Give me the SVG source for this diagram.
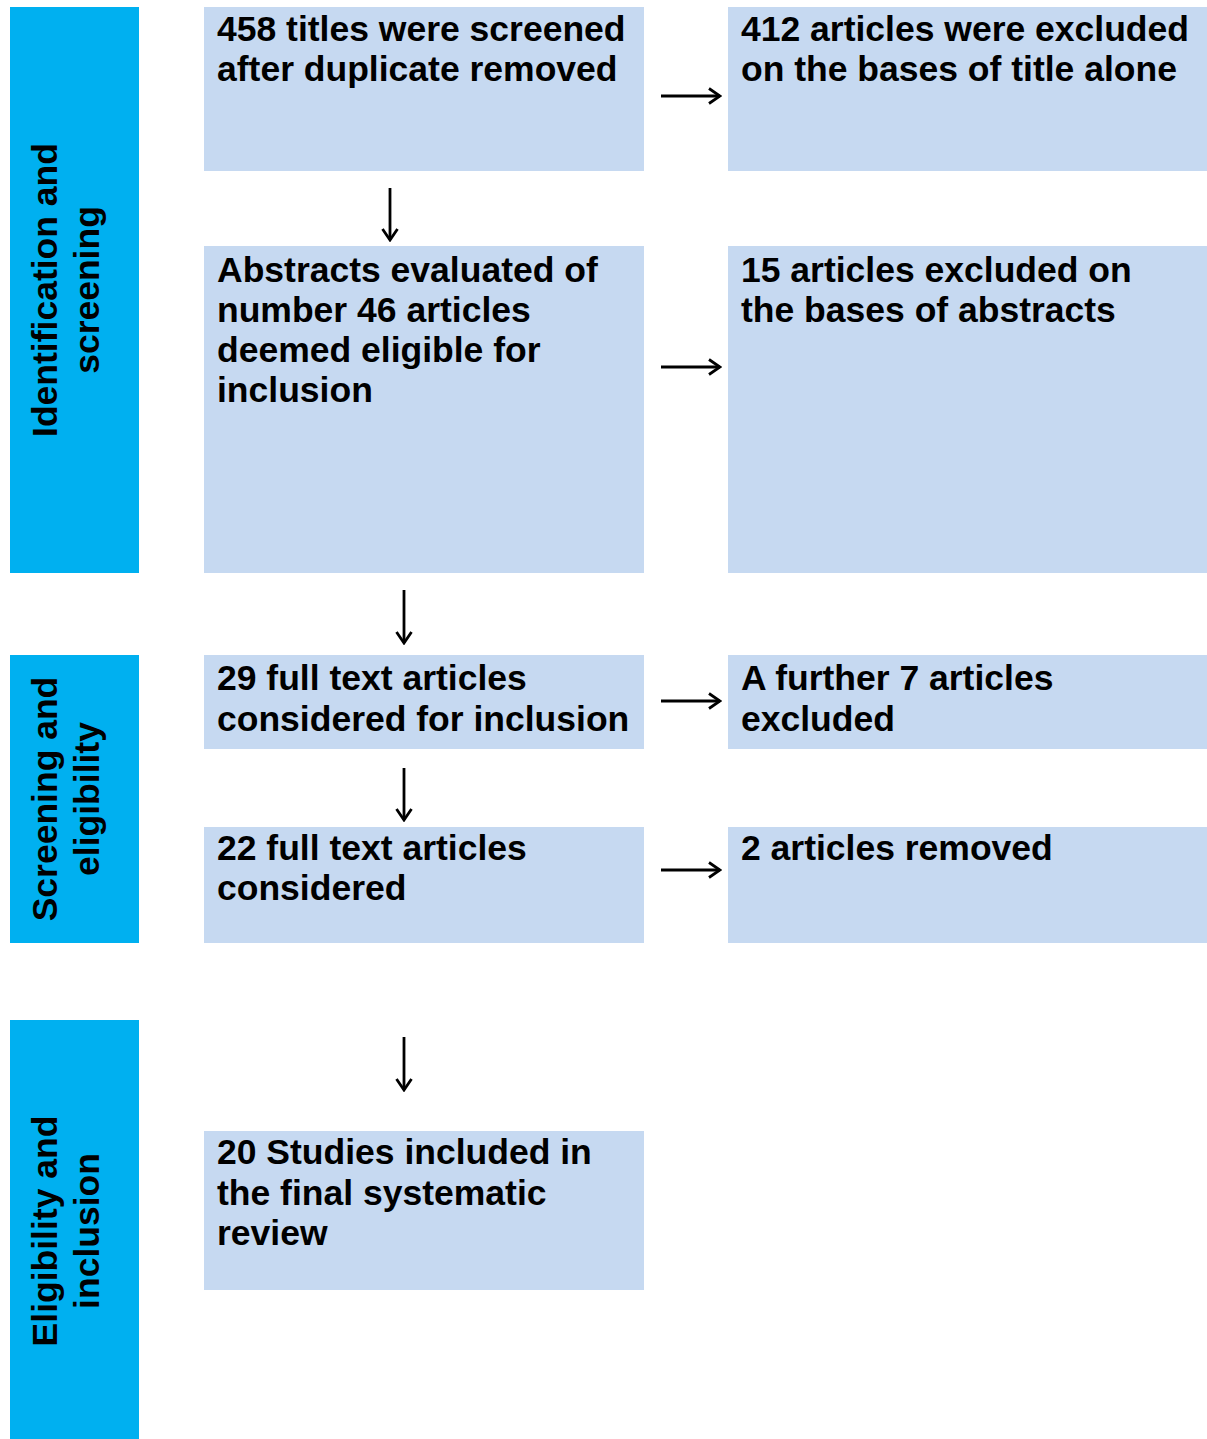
<svg xmlns="http://www.w3.org/2000/svg" width="1207" height="1439" viewBox="0 0 1207 1439">
<style>
.bar{fill:#00B0F0}
.box{fill:#C6D9F1}
.t{font-family:"Liberation Sans",Arial,sans-serif;font-weight:bold;font-size:35.5px;fill:#000}
.side{text-anchor:middle}
.c{stroke:#000;stroke-width:2.8;fill:none}
</style>
<defs>
<marker id="ah" viewBox="0 0 14 18" refX="12.5" refY="9" markerWidth="14" markerHeight="18" markerUnits="userSpaceOnUse" orient="auto">
<path d="M1.5,1.5 L12.5,9 L1.5,16.5" fill="none" stroke="#000" stroke-width="2.8"/>
</marker>
</defs>
<rect width="1207" height="1439" fill="#fff"/>
<g id="phase1">
<rect class="bar" x="10" y="7" width="129" height="566"/>
<text class="t side" transform="translate(57,290) rotate(-90)">Identification and</text>
<text class="t side" transform="translate(99,290) rotate(-90)">screening</text>
</g>
<g id="phase2">
<rect class="bar" x="10" y="655" width="129" height="288"/>
<text class="t side" transform="translate(57,799) rotate(-90)">Screening and</text>
<text class="t side" transform="translate(99,799) rotate(-90)">eligibility</text>
</g>
<g id="phase3">
<rect class="bar" x="10" y="1020" width="129" height="419"/>
<text class="t side" transform="translate(57,1231) rotate(-90)">Eligibility and</text>
<text class="t side" transform="translate(99,1231) rotate(-90)">inclusion</text>
</g>
<g id="n1">
<rect class="box" x="204" y="7" width="440" height="164"/>
<text class="t" x="217" y="41">458 titles were screened</text>
<text class="t" x="217" y="81">after duplicate removed</text>
</g>
<g id="n2">
<rect class="box" x="728" y="7" width="479" height="164"/>
<text class="t" x="741" y="41">412 articles were excluded</text>
<text class="t" x="741" y="81">on the bases of title alone</text>
</g>
<g id="n3">
<rect class="box" x="204" y="246" width="440" height="327"/>
<text class="t" x="217" y="282">Abstracts evaluated of</text>
<text class="t" x="217" y="322">number 46 articles</text>
<text class="t" x="217" y="362">deemed eligible for</text>
<text class="t" x="217" y="402">inclusion</text>
</g>
<g id="n4">
<rect class="box" x="728" y="246" width="479" height="327"/>
<text class="t" x="741" y="282">15 articles excluded on</text>
<text class="t" x="741" y="322">the bases of abstracts</text>
</g>
<g id="n5">
<rect class="box" x="204" y="655" width="440" height="94"/>
<text class="t" x="217" y="690">29 full text articles</text>
<text class="t" x="217" y="731">considered for inclusion</text>
</g>
<g id="n6">
<rect class="box" x="728" y="655" width="479" height="94"/>
<text class="t" x="741" y="690">A further 7 articles</text>
<text class="t" x="741" y="731">excluded</text>
</g>
<g id="n7">
<rect class="box" x="204" y="827" width="440" height="116"/>
<text class="t" x="217" y="860">22 full text articles</text>
<text class="t" x="217" y="900">considered</text>
</g>
<g id="n8">
<rect class="box" x="728" y="827" width="479" height="116"/>
<text class="t" x="741" y="860">2 articles removed</text>
</g>
<g id="n9">
<rect class="box" x="204" y="1131" width="440" height="159"/>
<text class="t" x="217" y="1164">20 Studies included in</text>
<text class="t" x="217" y="1205">the final systematic</text>
<text class="t" x="217" y="1245">review</text>
</g>
<g id="connectors">
<line class="c" x1="661" y1="96" x2="720" y2="96" marker-end="url(#ah)"/>
<line class="c" x1="661" y1="367" x2="720" y2="367" marker-end="url(#ah)"/>
<line class="c" x1="661" y1="701" x2="720" y2="701" marker-end="url(#ah)"/>
<line class="c" x1="661" y1="870" x2="720" y2="870" marker-end="url(#ah)"/>
<line class="c" x1="390" y1="188" x2="390" y2="240" marker-end="url(#ah)"/>
<line class="c" x1="404" y1="590" x2="404" y2="643" marker-end="url(#ah)"/>
<line class="c" x1="404" y1="768" x2="404" y2="820" marker-end="url(#ah)"/>
<line class="c" x1="404" y1="1037" x2="404" y2="1090" marker-end="url(#ah)"/>
</g>
</svg>
